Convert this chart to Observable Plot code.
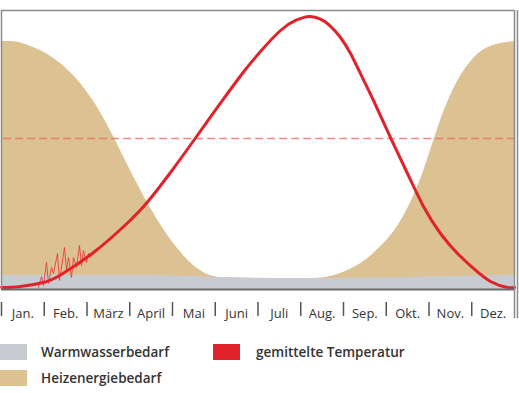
<!DOCTYPE html>
<html><head><meta charset="utf-8">
<script src="https://cdn.jsdelivr.net/npm/d3@7"></script>
<script src="https://cdn.jsdelivr.net/npm/@observablehq/plot@0.6"></script>
<style>
body{margin:0;background:#fff;font-family:"Open Sans",sans-serif;}
#chart{position:relative;width:519px;height:393px;overflow:hidden;}
#chart svg{position:absolute;left:0;top:0;}
.sw{position:absolute;width:27px;height:16px;}
.lb{position:absolute;font-size:13.5px;font-weight:600;color:#333;line-height:16px;white-space:nowrap;}
</style></head><body>
<div id="chart"></div>
<script>
const months = ["Jan.","Feb.","März","April","Mai","Juni","Juli","Aug.","Sep.","Okt.","Nov.","Dez."];

// Temperature curve (relative units, 0-100)
const tempX = [0,0.444,0.982,1.380,2.152,2.947,3.415,3.953,4.538,4.889,5.287,5.661,6.058,6.526,6.877,7.205,7.462,7.673,7.930,8.164,8.351,8.702,9.099,9.497,9.871,10.269,10.667,11.041,11.439,11.836,12];
const tempY = [0.72,1.08,2.51,5.20,13.26,23.84,31.36,41.94,54.30,61.83,70.25,77.96,85.30,92.83,96.42,97.85,96.88,94.70,90.32,84.59,78.85,67.74,54.48,41.58,29.75,20.07,12.90,7.53,2.87,0.72,0.72];

// Noisy daily temperature sample (Feb.)
const noiseX = [0.865,0.936,0.982,1.053,1.099,1.170,1.216,1.310,1.357,1.427,1.474,1.520,1.567,1.637,1.684,1.754,1.825,1.871,1.918,1.988,2.035,2.082];
const noiseY = [0.72,4.66,1.43,9.68,2.15,7.89,5.73,12.90,3.23,10.39,15.05,6.81,11.47,4.30,11.47,7.89,15.77,8.60,13.98,9.68,12.90,11.47];

// Heating energy demand (total height)
const heatX = [0,0.211,0.749,1.380,1.848,2.316,2.620,2.947,3.322,3.719,4.117,4.491,4.819,5.123,6.058,7.275,7.930,8.702,9.333,9.637,9.871,10.105,10.339,10.667,11.041,11.439,12];
const heatY = [88.89,88.89,86.74,81.00,73.84,63.44,54.84,44.80,33.69,23.30,14.70,8.60,5.38,4.30,3.94,3.94,5.73,12.90,24.37,33.33,42.29,53.05,63.44,74.55,82.80,87.10,88.89];

// Hot water demand
const waterX = [0,3.5,5.1,7.0,9.3,12];
const waterY = [5.02,5.02,4.30,3.94,4.30,5.02];

// Heating limit temperature (dashed)
const limitY = 54.12;

const temp = tempX.map((x,i)=>({x, y: tempY[i]}));
const noise = noiseX.map((x,i)=>({x, y: noiseY[i]}));
const heat = heatX.map((x,i)=>({x, y: heatY[i]}));
const water = waterX.map((x,i)=>({x, y: waterY[i]}));

const RED = "#e2222b", TAN = "#dcc193", GRAY = "#c8ccd0";

const plot = Plot.plot({
  width: 519, height: 325,
  marginLeft: 1, marginRight: 5, marginTop: 10, marginBottom: 36,
  style: {fontFamily: "'Open Sans', sans-serif", background: "transparent"},
  x: {domain: [0, 12], label: null},
  y: {domain: [0, 100], axis: null},
  marks: [
    Plot.areaY(heat, {x: "x", y: "y", fill: TAN, curve: "monotone-x"}),
    Plot.areaY(water, {x: "x", y: "y", fill: GRAY, curve: "monotone-x"}),
    Plot.ruleY([limitY], {x1: 0.05, x2: 12, stroke: "#ec6a6a", strokeWidth: 1.5, strokeOpacity: 0.8, strokeDasharray: "8,4"}),
    Plot.line(noise, {x: "x", y: "y", stroke: "#e5383f", strokeWidth: 1, strokeOpacity: 0.85}),
    Plot.line(temp, {x: "x", y: "y", stroke: RED, strokeWidth: 3, curve: "natural"}),
    Plot.ruleY([100], {stroke: "#8a8a8a", strokeWidth: 1.5}),
    Plot.ruleX([0], {stroke: "#8a8a8a", strokeWidth: 1.5}),
    Plot.ruleY([0], {stroke: "#6a6a6a", strokeWidth: 2}),
    Plot.ruleX([12], {y1: -10.5, y2: 100, stroke: "#8a8a8a", strokeWidth: 1.5, clip: false}),
    Plot.ruleX([12], {y1: -10.5, y2: 100, stroke: "#8a8a8a", strokeWidth: 1.5, dx: 3, clip: false}),
    Plot.axisX(d3.range(12), {tickSize: 14, dy: 13, tickFormat: () => "", label: null, stroke: "#555", strokeWidth: 1.5}),
    Plot.axisX(months.map((m,i)=>i+0.5), {tickSize: 0, tickPadding: 19, label: null, tickFormat: d => months[Math.floor(d)], fontSize: 13, fill: "#333"})
  ]
});
const chart = document.getElementById("chart");
chart.appendChild(plot);

const legend = [
  {label: "Warmwasserbedarf", color: GRAY, x: 0, y: 344},
  {label: "Heizenergiebedarf", color: TAN, x: 0, y: 370},
  {label: "gemittelte Temperatur", color: RED, x: 213, y: 344}
];
for (const l of legend) {
  const s = document.createElement("div");
  s.className = "sw"; s.style.left = l.x + "px"; s.style.top = l.y + "px"; s.style.background = l.color;
  chart.appendChild(s);
  const t = document.createElement("div");
  t.className = "lb"; t.style.left = (l.x + 41 + (l.x ? 2 : 0)) + "px"; t.style.top = l.y + "px"; t.textContent = l.label;
  chart.appendChild(t);
}
</script>
</body></html>
